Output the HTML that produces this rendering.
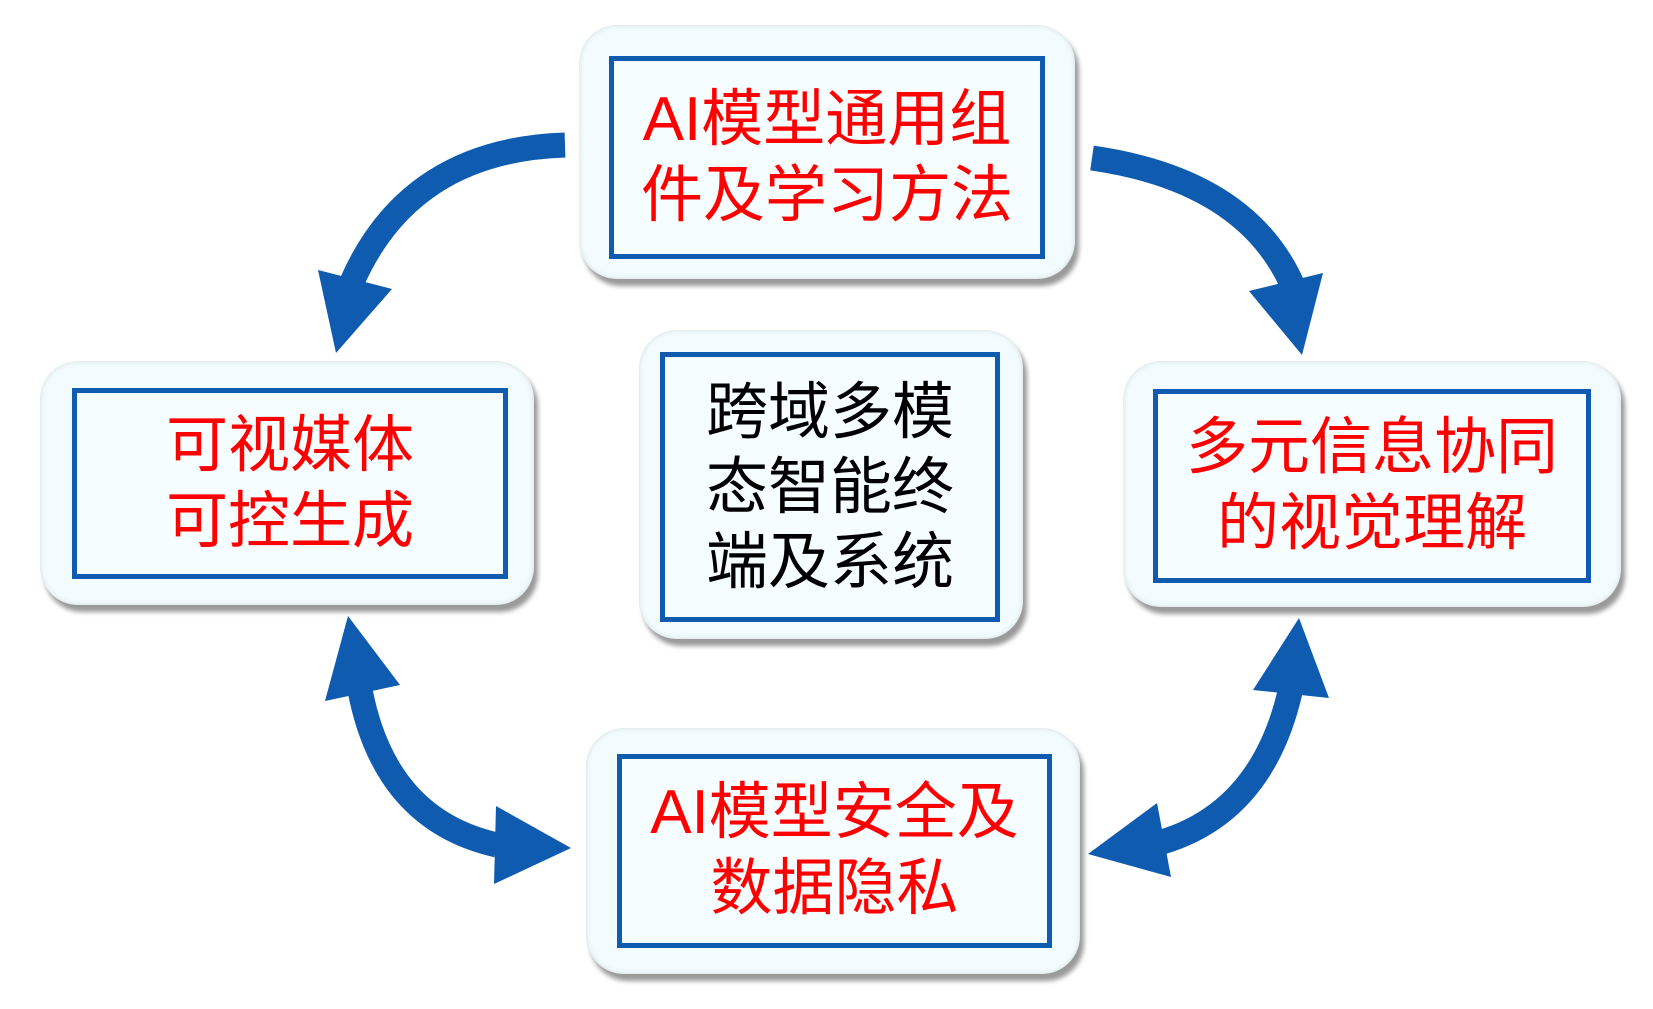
<!DOCTYPE html>
<html><head><meta charset="utf-8"><style>
html,body{margin:0;padding:0;background:#fff;}
body{width:1653px;height:1009px;position:relative;overflow:hidden;font-family:"Liberation Sans","Noto Sans CJK SC",sans-serif;}
.o{position:absolute;background:#f2fbfd;border-radius:38px;box-shadow:4px 7px 5px rgba(0,0,0,0.4), inset 0 0 6px rgba(0,0,0,0.12);}
.i{position:absolute;background:#f5fdff;border:5px solid #0f5bb0;box-sizing:border-box;display:flex;align-items:center;justify-content:center;text-align:center;color:#ff0000;font-size:62px;line-height:76px;}
svg{position:absolute;left:0;top:0;}
</style></head><body>
<svg width="1653" height="1009">
<g fill="none" stroke="#0f5bb0" stroke-width="25">
<path d="M565,145 Q410,150 352,282"/>
<path d="M1092,158 Q1245,180 1292,284"/>
<path d="M360,690 Q385,820 497,845"/>
<path d="M1290,692 Q1262,812 1162,842"/>
</g>
<g fill="#0f5bb0">
<polygon points="318,270 392,289 336,353"/>
<polygon points="1249,291 1323,273 1302,355"/>
<polygon points="348,616 325,701 400,685"/>
<polygon points="571,848 496,806 494,884"/>
<polygon points="1299,618 1253,690 1329,698"/>
<polygon points="1088,854 1157,803 1171,877"/>
</g>
</svg>

<div class="o" style="left:579px;top:25px;width:496px;height:254px;"></div>
<div class="i" style="left:609px;top:56px;width:436px;height:203px;">AI模型通用组<br>件及学习方法</div>

<div class="o" style="left:40px;top:361px;width:494px;height:244px;"></div>
<div class="i" style="left:72px;top:388px;width:436px;height:191px;">可视媒体<br>可控生成</div>

<div class="o" style="left:639px;top:330px;width:384px;height:309px;"></div>
<div class="i" style="left:660px;top:352px;width:340px;height:270px;color:#000;font-size:62px;line-height:75px;">跨域多模<br>态智能终<br>端及系统</div>

<div class="o" style="left:1123px;top:361px;width:498px;height:246px;"></div>
<div class="i" style="left:1153px;top:389px;width:438px;height:194px;">多元信息协同<br>的视觉理解</div>

<div class="o" style="left:586px;top:728px;width:494px;height:246px;"></div>
<div class="i" style="left:617px;top:754px;width:435px;height:194px;">AI模型安全及<br>数据隐私</div>
</body></html>
